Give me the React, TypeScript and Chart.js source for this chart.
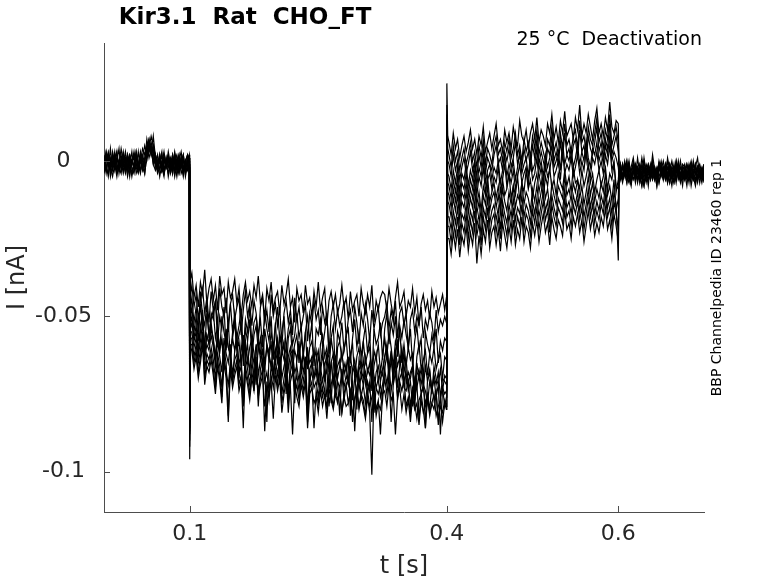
import { useEffect, useRef } from "react";
import { Chart, registerables } from "chart.js";

Chart.register(...registerables);

// sample times in ms
const timeMs = [
  0, 2.5, 5, 7.5, 10, 12.5, 15, 17.5, 20, 22.5,
  25, 27.5, 30, 32.5, 35, 37.5, 40, 42.5, 45, 47.5,
  50, 52.5, 55, 57.5, 60, 62.5, 65, 67.5, 70, 72.5,
  75, 77.5, 80, 82.5, 85, 87.5, 90, 92.5, 95, 97.5,
  99.5, 100, 101,
  102.5, 105, 107.5, 110, 112.5, 115, 117.5, 120, 122.5, 125,
  127.5, 130, 132.5, 135, 137.5, 140, 142.5, 145, 147.5, 150,
  152.5, 155, 157.5, 160, 162.5, 165, 167.5, 170, 172.5, 175,
  177.5, 180, 182.5, 185, 187.5, 190, 192.5, 195, 197.5, 200,
  202.5, 205, 207.5, 210, 212.5, 215, 217.5, 220, 222.5, 225,
  227.5, 230, 232.5, 235, 237.5, 240, 242.5, 245, 247.5, 250,
  252.5, 255, 257.5, 260, 262.5, 265, 267.5, 270, 272.5, 275,
  277.5, 280, 282.5, 285, 287.5, 290, 292.5, 295, 297.5, 300,
  302.5, 305, 307.5, 310, 312.5, 315, 317.5, 320, 322.5, 325,
  327.5, 330, 332.5, 335, 337.5, 340, 342.5, 345, 347.5, 350,
  352.5, 355, 357.5, 360, 362.5, 365, 367.5, 370, 372.5, 375,
  377.5, 380, 382.5, 385, 387.5, 390, 392.5, 395, 397.5,
  399.5, 400, 401,
  402.5, 405, 407.5, 410, 412.5, 415, 417.5, 420, 422.5, 425,
  427.5, 430, 432.5, 435, 437.5, 440, 442.5, 445, 447.5, 450,
  452.5, 455, 457.5, 460, 462.5, 465, 467.5, 470, 472.5, 475,
  477.5, 480, 482.5, 485, 487.5, 490, 492.5, 495, 497.5, 500,
  502.5, 505, 507.5, 510, 512.5, 515, 517.5, 520, 522.5, 525,
  527.5, 530, 532.5, 535, 537.5, 540, 542.5, 545, 547.5, 550,
  552.5, 555, 557.5, 560, 562.5, 565, 567.5, 570, 572.5, 575,
  577.5, 580, 582.5, 585, 587.5, 590, 592.5, 595, 597.5,
  600, 601,
  602.5, 605, 607.5, 610, 612.5, 615, 617.5, 620, 622.5, 625,
  627.5, 630, 632.5, 635, 637.5, 640, 642.5, 645, 647.5, 650,
  652.5, 655, 657.5, 660, 662.5, 665, 667.5, 670, 672.5, 675,
  677.5, 680, 682.5, 685, 687.5, 690, 692.5, 695, 697.5, 700,
];

// current traces in pA
const trace01 = [
  -1, 3, 0, -2, 2, -3, 1, -1, 4, 0,
  -4, -1, 2, 0, -2, 3, -1, -3, 1, 5,
  2, 6, 3, 1, -1, 2, -3, 0, 1, -2,
  3, -1, -4, 0, 2, -2, 1, -3, 0, 2,
  1, -96, -38,
  -36, -44, -40, -47, -39, -43, -35, -46, -41, -38,
  -45, -40, -48, -37, -43, -41, -49, -39, -44, -42,
  -38, -46, -41, -50, -43, -39, -45, -42, -47, -40,
  -44, -37, -46, -43, -51, -41, -45, -39, -48, -44,
  -42, -49, -40, -46, -43, -38, -47, -44, -52, -41,
  -45, -43, -49, -40, -46, -44, -50, -42, -47, -39,
  -48, -44, -41, -53, -45, -42, -47, -43, -49, -46,
  -40, -47, -44, -51, -42, -48, -45, -43, -50, -41,
  -46, -49, -43, -47, -40, -52, -45, -48, -44, -42,
  -43, -48, -41, -46, -50, -44, -39, -47, -45, -42,
  -50, -45, -47, -41, -49, -44, -53, -46, -43, -48,
  -45, -51, -42, -47, -44, -49, -46, -43, -48,
  -44, 25, 8,
  6, 2, 9, 4, 7, 1, 5, 8, 3, 6,
  10, 4, 7, 2, 8, 5, 11, 3, 6, 9,
  4, 8, 12, 5, 7, 3, 10, 6, 9, 4,
  11, 7, 5, 13, 8, 6, 10, 4, 9, 12,
  7, 14, 6, 10, 8, 5, 12, 9, 15, 7,
  11, 6, 13, 9, 16, 8, 10, 12, 7, 14,
  10, 18, 8, 12, 9, 15, 11, 7, 13, 17,
  9, 12, 8, 14, 10, 19, 11, 9, 13,
  12, -3,
  -1, -5, 0, -3, -6, -2, 1, -4, -2, -7,
  -3, 0, -5, -2, -4, 2, -3, -6, -1, -4,
  -2, -5, 1, -3, -6, -2, -4, 0, -5, -3,
  -6, -1, -3, -5, 0, -4, -2, -7, -3, -1,
];
const trace02 = [
  2, -2, -4, 1, -1, 3, -3, 0, -2, 2,
  0, -5, -1, 3, -3, 1, -2, 0, 4, 2,
  5, 1, 4, -1, 2, -2, 0, 3, -4, -1,
  1, -3, 2, -1, -5, 0, 3, -2, -1, 1,
  -1, -90, -43,
  -40, -47, -43, -51, -45, -41, -49, -44, -52, -42,
  -48, -45, -53, -41, -47, -50, -44, -55, -46, -43,
  -51, -47, -44, -56, -48, -42, -50, -46, -53, -45,
  -49, -58, -47, -44, -52, -48, -55, -43, -50, -46,
  -53, -47, -60, -49, -45, -52, -48, -56, -44, -51,
  -47, -54, -50, -46, -58, -49, -53, -45, -51, -48,
  -56, -47, -52, -49, -62, -50, -46, -54, -48, -53,
  -50, -45, -57, -51, -48, -55, -47, -52, -59, -49,
  -53, -46, -51, -58, -48, -54, -50, -47, -56, -52,
  -50, -46, -54, -48, -52, -45, -57, -49, -47, -53,
  -49, -61, -51, -48, -55, -50, -53, -47, -57, -51,
  -54, -49, -52, -58, -48, -55, -51, -53, -50,
  -52, 18, 4,
  2, -2, 5, 0, 3, -3, 1, 4, -1, 2,
  6, 0, 3, -2, 5, 1, 7, -1, 4, 2,
  -1, 5, 8, 2, 4, 0, 6, 3, 7, 1,
  4, 9, 2, 5, 0, 7, 3, 6, 1, 8,
  4, 10, 2, 6, 3, 0, 7, 5, 11, 3,
  6, 2, 9, 4, 12, 5, 7, 3, 8, 10,
  4, 13, 6, 8, 3, 11, 7, 5, 9, 14,
  6, 9, 4, 10, 7, 15, 5, 8, 11,
  6, -4,
  -2, -6, -1, -4, 0, -5, -3, -7, -2, -4,
  1, -3, -6, -2, -5, -1, -4, -8, -3, 0,
  -4, -2, -6, -1, -3, -5, 0, -4, -7, -2,
  -3, -5, -1, -4, -6, -2, 1, -5, -3, -6,
];
const trace03 = [
  -3, 0, 2, -2, -5, -1, 3, -4, 0, -2,
  1, -3, 0, -1, 2, -4, -2, 1, -3, 0,
  7, 3, 5, 2, 0, -2, 1, -3, 2, -1,
  -4, 0, -2, 3, -1, -3, 0, 2, -4, -1,
  -2, -88, -47,
  -44, -52, -47, -55, -42, -50, -53, -46, -57, -49,
  -51, -45, -58, -50, -54, -47, -61, -52, -46, -55,
  -49, -57, -53, -48, -62, -51, -55, -47, -59, -52,
  -50, -56, -51, -60, -48, -54, -58, -50, -64, -53,
  -47, -58, -55, -50, -61, -54, -51, -59, -56, -49,
  -57, -53, -63, -55, -50, -58, -52, -66, -54, -56,
  -51, -60, -55, -49, -62, -57, -53, -68, -55, -58,
  -52, -61, -56, -54, -65, -57, -51, -60, -55, -63,
  -58, -53, -62, -56, -70, -54, -59, -57, -52, -64,
  -54, -49, -59, -52, -56, -50, -63, -53, -57, -51,
  -56, -60, -54, -66, -58, -53, -61, -57, -72, -55,
  -59, -62, -56, -60, -54, -65, -58, -61, -57,
  -58, 15, 0,
  -1, -5, 2, -3, 0, -6, -2, 1, -4, -1,
  3, -3, 0, -5, 2, -2, 4, -4, 1, -1,
  -3, 2, 5, -1, 1, -3, 3, 0, 4, -2,
  1, 6, -1, 2, -2, 4, 0, 3, -2, 5,
  1, 7, -1, 3, 0, -3, 4, 2, 8, 0,
  3, -1, 6, 1, 9, 2, 4, 0, 5, 7,
  1, 10, 3, 5, 0, 8, 4, 2, 6, 11,
  3, 6, 1, 7, 4, 12, 2, 5, 8,
  3, -2,
  -5, -1, -4, 0, -6, -3, -2, -5, 1, -4,
  -6, -2, -3, -8, -1, -4, -2, -5, 0, -3,
  -5, -1, -4, -7, -2, -3, 0, -6, -4, -1,
  -2, -5, -3, 0, -4, -6, -2, -4, -7, -3,
];
const trace04 = [
  0, -4, 1, -2, 3, -1, -5, 0, 2, -3,
  -1, 2, -4, 0, 1, -2, 3, -3, -1, 0,
  4, 7, 2, 5, 1, -1, 1, -3, 0, -2,
  1, -4, -1, 2, -3, 0, -2, 1, -5, -1,
  1, -84, -50,
  -47, -55, -50, -58, -46, -53, -60, -49, -56, -51,
  -48, -57, -53, -62, -50, -55, -59, -52, -64, -55,
  -51, -60, -56, -53, -66, -54, -58, -51, -63, -56,
  -53, -61, -57, -68, -54, -59, -62, -55, -60, -52,
  -64, -56, -61, -58, -70, -57, -54, -63, -59, -56,
  -65, -57, -62, -55, -67, -60, -58, -64, -61, -72,
  -59, -56, -63, -60, -68, -57, -62, -75, -60, -58,
  -64, -61, -57, -66, -62, -59, -70, -63, -60, -67,
  -58, -65, -62, -60, -71, -61, -64, -59, -68, -63,
  -57, -63, -55, -60, -66, -58, -61, -54, -65, -59,
  -66, -60, -64, -62, -74, -63, -59, -67, -64, -61,
  -69, -62, -65, -60, -67, -64, -62, -70, -63,
  -64, 12, -4,
  -5, -9, -3, -7, -2, -10, -4, -6, -1, -8,
  -3, -6, 0, -8, -2, -5, 1, -7, -3, -1,
  -6, -2, -4, 0, -7, -3, 2, -5, -1, -4,
  0, -6, -2, 3, -4, -1, 1, -5, 2, -3,
  -1, 4, -3, 0, -5, 2, -2, 1, 5, -2,
  0, 3, -3, 6, -1, 2, 0, 4, -2, 1,
  5, -1, 3, 0, 7, 1, -2, 4, 2, 6,
  0, 3, -1, 5, 2, 8, 0, 3, 1,
  -2, -5,
  -2, -6, -3, 0, -5, -8, -2, -4, -6, -1,
  -3, -7, -4, -2, -5, 0, -6, -3, -1, -4,
  -5, -2, -7, -3, 0, -4, -6, -1, -5, -3,
  -1, -4, -6, -2, -5, -8, -3, -1, -4, -2,
];
const trace05 = [
  -2, 3, -1, -3, 0, 2, -4, -2, 1, -1,
  3, -2, 0, -4, -1, 2, -3, 1, -2, 0,
  3, 5, 2, 4, 0, -4, -2, 2, -3, 1,
  -5, -1, 2, -3, 0, -2, 1, -4, 0, -2,
  -3, -80, -52,
  -50, -57, -53, -61, -55, -48, -62, -56, -59, -52,
  -58, -64, -55, -61, -57, -67, -54, -60, -63, -57,
  -52, -61, -58, -66, -56, -63, -59, -69, -57, -62,
  -72, -59, -62, -56, -65, -60, -64, -58, -70, -61,
  -57, -66, -62, -59, -75, -63, -60, -67, -61, -64,
  -58, -68, -62, -66, -60, -73, -64, -61, -69, -63,
  -66, -60, -71, -64, -62, -78, -65, -63, -70, -66,
  -61, -69, -65, -72, -63, -68, -66, -80, -64, -67,
  -70, -63, -68, -65, -74, -66, -62, -71, -67, -69,
  -63, -59, -67, -61, -72, -62, -58, -65, -60, -68,
  -64, -72, -68, -66, -77, -65, -70, -67, -73, -66,
  -71, -68, -75, -66, -70, -72, -67, -74, -69,
  -70, 10, -7,
  -8, -12, -6, -10, -5, -13, -7, -9, -4, -11,
  -6, -9, -3, -11, -5, -8, -2, -10, -6, -4,
  -9, -5, -7, -2, -10, -6, -1, -8, -4, -7,
  -3, -9, -5, -1, -7, -4, -2, -8, 0, -6,
  -4, 1, -6, -2, -8, -1, -5, -3, 2, -5,
  -3, 0, -6, 3, -4, -1, -3, 1, -5, -2,
  2, -4, 0, -3, 4, -2, -5, 1, -1, 3,
  -3, 0, -4, 2, -1, 5, -3, 0, -10,
  -6, -3,
  -5, -1, -4, -7, -2, -5, 0, -3, -6, -4,
  -8, -2, -5, -1, -3, -6, -4, -2, -5, -3,
  0, -4, -7, -2, -5, -1, -6, -3, -4, -8,
  -2, -5, -3, -6, -1, -4, -7, -2, -5, -3,
];
const trace06 = [
  1, -1, -5, 0, -2, 2, -1, -3, 0, 1,
  -3, 0, 2, -2, -4, 1, -1, 3, -2, -4,
  2, 4, 6, 3, -2, 0, -5, -1, 3, -2,
  0, -3, 1, -5, -1, 2, -2, 0, -3, 1,
  0, -86, -54,
  -52, -58, -55, -61, -53, -49, -62, -56, -59, -54,
  -57, -63, -55, -60, -58, -66, -56, -60, -62, -57,
  -61, -55, -70, -59, -63, -58, -65, -60, -57, -74,
  -60, -58, -64, -61, -68, -59, -62, -66, -60, -63,
  -58, -72, -61, -64, -60, -67, -62, -61, -78, -63,
  -60, -66, -62, -69, -61, -65, -63, -70, -64, -61,
  -68, -63, -66, -62, -73, -65, -62, -69, -66, -64,
  -71, -65, -68, -63, -82, -67, -64, -70, -66, -69,
  -64, -72, -67, -69, -65, -75, -68, -66, -71, -67,
  -63, -60, -67, -62, -71, -61, -66, -63, -69, -61,
  -72, -68, -70, -66, -79, -69, -67, -72, -68, -86,
  -70, -67, -74, -69, -72, -68, -76, -70, -71,
  -72, 8, -10,
  -11, -15, -9, -13, -8, -16, -10, -12, -7, -14,
  -9, -12, -6, -14, -10, -16, -8, -11, -5, -13,
  -10, -7, -12, -8, -14, -6, -11, -9, -4, -12,
  -8, -11, -5, -13, -7, -10, -3, -9, -6, -12,
  -7, -4, -10, -6, -12, -5, -8, -2, -9, -6,
  -11, -4, -7, -9, -3, -8, -5, -10, -2, -7,
  -6, -9, -3, -8, -5, -1, -7, -4, -10, -6,
  -3, -8, -5, -2, -9, -4, -6, -1, -8,
  -9, -4,
  -1, -6, -3, -5, -2, -7, -4, -1, -6, -3,
  -5, -8, -2, -4, -6, -1, -5, -3, -7, -2,
  -4, -1, -6, -3, -5, -7, -2, -4, 0, -5,
  -3, -6, -2, -8, -4, -1, -5, -3, -6, -2,
];
const trace07 = [
  -1, 2, -2, 4, -3, 0, 1, -2, -4, 2,
  0, -3, 1, -1, 3, -2, -4, 0, 2, -1,
  0, 6, 3, 8, 1, -2, 0, -3, 1, -1,
  -2, 0, -4, 2, -3, 1, -1, -5, 0, 2,
  -2, -82, -55,
  -55, -60, -57, -63, -58, -52, -64, -59, -61, -56,
  -60, -66, -58, -63, -68, -57, -62, -65, -59, -71,
  -61, -58, -65, -63, -78, -60, -64, -67, -62, -65,
  -59, -69, -64, -61, -67, -84, -63, -66, -68, -61,
  -65, -60, -70, -66, -63, -75, -65, -62, -68, -66,
  -71, -64, -68, -63, -80, -67, -65, -70, -68, -72,
  -66, -71, -67, -76, -69, -65, -72, -68, -71, -82,
  -67, -73, -69, -72, -66, -77, -70, -67, -74, -69,
  -72, -68, -75, -71, -84, -69, -73, -70, -76, -72,
  -67, -62, -70, -64, -68, -61, -73, -66, -63, -71,
  -68, -74, -71, -79, -70, -73, -69, -75, -72, -74,
  -78, -71, -74, -70, -76, -72, -88, -73, -75,
  -74, 14, -13,
  -14, -18, -12, -16, -11, -19, -13, -15, -10, -17,
  -12, -15, -9, -17, -13, -19, -11, -14, -8, -16,
  -12, -10, -15, -11, -17, -9, -13, -16, -10, -14,
  -8, -15, -11, -13, -7, -14, -10, -12, -16, -9,
  -13, -8, -14, -10, -6, -12, -9, -15, -7, -11,
  -14, -8, -10, -12, -5, -11, -9, -13, -7, -10,
  -6, -12, -8, -14, -10, -5, -11, -7, -13, -9,
  -12, -7, -10, -4, -11, -8, -13, -6, -16,
  -12, -2,
  -4, -7, -3, -5, -1, -6, -4, -2, -7, -3,
  -5, 1, -4, -6, -2, -5, -3, -8, -2, -4,
  -6, -3, 0, -5, -2, -7, -4, -1, -6, -3,
  -4, -8, -2, -5, -3, -1, -6, -4, -2, -5,
];
const trace08 = [
  -4, 0, 3, -1, -2, 1, -3, 0, -1, 3,
  -2, 1, -5, 0, 2, -1, -3, 2, 0, -4,
  2, 4, 8, 5, 2, 0, 1, -2, -4, 0,
  2, -2, 0, -3, 1, -4, -1, 2, -2, 0,
  2, -78, -57,
  -57, -63, -59, -65, -61, -55, -67, -62, -64, -60,
  -64, -70, -62, -66, -73, -61, -65, -82, -63, -68,
  -64, -62, -69, -66, -75, -63, -67, -72, -65, -69,
  -63, -79, -67, -64, -71, -68, -74, -66, -70, -64,
  -69, -63, -75, -70, -66, -78, -68, -65, -72, -69,
  -74, -67, -71, -66, -84, -70, -68, -73, -71, -76,
  -69, -74, -70, -67, -79, -72, -69, -75, -71, -73,
  -68, -77, -72, -70, -75, -71, -87, -73, -69, -76,
  -72, -78, -71, -74, -70, -81, -73, -75, -72, -77,
  -67, -72, -66, -74, -69, -65, -77, -70, -68, -73,
  -74, -71, -79, -73, -76, -72, -83, -75, -73, -78,
  -75, -80, -72, -77, -74, -85, -76, -73, -79,
  -76, 11, -18,
  -18, -22, -16, -20, -15, -23, -17, -19, -14, -21,
  -16, -19, -13, -21, -17, -24, -15, -18, -12, -20,
  -16, -14, -19, -15, -22, -13, -17, -20, -14, -18,
  -12, -19, -15, -17, -11, -18, -14, -16, -20, -13,
  -17, -12, -18, -14, -10, -16, -13, -19, -11, -15,
  -18, -12, -14, -16, -9, -15, -13, -17, -11, -14,
  -10, -16, -12, -18, -14, -9, -15, -11, -17, -13,
  -16, -11, -14, -8, -15, -12, -17, -10, -14,
  -32, -5,
  -3, -6, -2, -5, -7, -3, -1, -6, -4, -2,
  -5, -8, -3, -1, -4, -6, -2, -5, -3, -1,
  -6, -2, -4, -7, -3, -5, -1, -4, -6, -2,
  -5, -3, -7, -1, -4, -2, -6, -3, -5, -1,
];
const trace09 = [
  0, -3, 2, -5, -1, 1, 3, -2, 0, -4,
  -1, 2, -3, 0, -2, 3, -1, -4, 1, -2,
  1, 3, 4, -1, -3, -1, 2, -2, -5, 1,
  -2, 1, -3, 0, -1, 2, -4, -2, 0, -3,
  -1, -92, -59,
  -59, -65, -61, -68, -63, -57, -70, -64, -66, -62,
  -67, -73, -64, -69, -76, -63, -68, -72, -65, -71,
  -67, -64, -72, -69, -86, -66, -70, -75, -68, -72,
  -65, -74, -70, -67, -87, -71, -77, -69, -73, -67,
  -72, -66, -78, -73, -69, -81, -71, -68, -75, -72,
  -77, -70, -74, -69, -82, -73, -71, -86, -74, -78,
  -72, -76, -73, -80, -71, -75, -79, -73, -77, -74,
  -81, -75, -72, -78, -74, -84, -76, -73, -79, -75,
  -77, -82, -74, -79, -76, -73, -80, -77, -88, -75,
  -70, -75, -69, -84, -72, -68, -76, -71, -74, -70,
  -79, -76, -81, -74, -78, -83, -77, -75, -80, -86,
  -76, -81, -78, -75, -82, -79, -77, -84, -78,
  -80, 9, -21,
  -21, -26, -19, -24, -18, -27, -20, -23, -17, -25,
  -19, -23, -16, -24, -20, -27, -18, -22, -15, -24,
  -19, -17, -23, -18, -25, -16, -20, -24, -17, -22,
  -15, -23, -18, -21, -14, -22, -17, -19, -24, -16,
  -20, -15, -22, -17, -13, -19, -16, -23, -14, -18,
  -21, -15, -17, -20, -12, -18, -16, -21, -14, -17,
  -13, -19, -15, -22, -17, -12, -18, -14, -20, -16,
  -19, -14, -17, -11, -18, -15, -21, -13, -17,
  -22, -3,
  -6, -2, -5, -1, -4, -7, -2, -5, -3, -6,
  -1, -4, -7, -3, -5, -2, -6, -4, -1, -5,
  -3, -6, -2, -4, -8, -3, -1, -5, -2, -4,
  -6, -3, -5, -1, -4, -7, -2, -5, -3, -6,
];
const trace10 = [
  -2, 1, -1, -3, 2, -2, 0, 4, -3, -1,
  1, -2, 0, -5, -1, 2, -3, 0, -2, 1,
  4, 7, 3, 1, -1, -3, 2, -3, 0, -1,
  1, -3, -1, 0, -2, -4, 1, -3, -2, 0,
  -3, -87, -60,
  -61, -67, -63, -70, -65, -59, -72, -66, -68, -64,
  -69, -75, -66, -71, -78, -65, -70, -84, -67, -73,
  -69, -66, -74, -71, -79, -68, -72, -77, -70, -74,
  -67, -76, -72, -69, -79, -73, -75, -71, -83, -69,
  -74, -70, -81, -75, -71, -77, -73, -88, -72, -76,
  -79, -72, -76, -71, -86, -75, -73, -78, -76, -81,
  -74, -79, -75, -83, -73, -77, -80, -75, -78, -74,
  -81, -76, -79, -78, -75, -82, -77, -74, -80, -76,
  -79, -83, -76, -81, -101, -74, -82, -78, -80, -75,
  -74, -79, -72, -77, -75, -88, -76, -73, -80, -75,
  -81, -77, -84, -76, -80, -78, -85, -77, -81, -79,
  -76, -82, -78, -80, -75, -83, -79, -81, -77,
  -79, 7, -25,
  -25, -30, -23, -28, -22, -31, -24, -27, -21, -29,
  -23, -27, -20, -33, -24, -30, -22, -26, -19, -28,
  -23, -21, -27, -22, -29, -20, -24, -28, -21, -26,
  -19, -27, -22, -25, -18, -26, -21, -23, -28, -20,
  -24, -19, -26, -21, -17, -23, -20, -27, -18, -22,
  -25, -19, -21, -24, -16, -22, -20, -25, -18, -21,
  -17, -23, -19, -26, -21, -16, -22, -18, -24, -20,
  -23, -18, -21, -15, -22, -19, -25, -17, -21,
  -26, -6,
  -2, -5, -3, -7, -1, -4, -6, -3, -2, -5,
  -8, -4, -1, -3, -6, -2, -5, -3, -7, -4,
  -2, -6, -4, -1, -5, -3, -7, -2, -4, -6,
  -3, -1, -5, -2, -6, -4, -2, -5, -3, -7,
];

const traces = [trace01, trace02, trace03, trace04, trace05, trace06, trace07, trace08, trace09, trace10];

const xTickValues = [100, 400, 600];
const yTickValues = [-100, -50, 0];
const xRange = [0, 700];
const yRange = [-113, 38];

const titleText = "Kir3.1  Rat  CHO_FT";
const conditionText = "25 \u00B0C  Deactivation";
const sourceText = "BBP Channelpedia ID 23460 rep 1";
const xTitle = "t [s]";
const yTitle = "I [nA]";

const FONT = "'DejaVu Sans', 'Liberation Sans', sans-serif";
const AXIS_COLOR = "#4d4d4d";
const TEXT_COLOR = "#262626";

const decorPlugin = {
  id: "decor",
  afterDraw(chart: any) {
    const { ctx, chartArea, scales } = chart;
    ctx.save();
    ctx.strokeStyle = AXIS_COLOR;
    ctx.lineWidth = 1;
    xTickValues.forEach((v) => {
      const px = Math.round(scales.x.getPixelForValue(v)) + 0.5;
      ctx.beginPath();
      ctx.moveTo(px, chartArea.bottom);
      ctx.lineTo(px, chartArea.bottom - 6);
      ctx.stroke();
    });
    yTickValues.forEach((v) => {
      const py = Math.round(scales.y.getPixelForValue(v)) + 0.5;
      ctx.beginPath();
      ctx.moveTo(chartArea.left, py);
      ctx.lineTo(chartArea.left + 6, py);
      ctx.stroke();
    });
    ctx.fillStyle = "#000";
    ctx.font = `bold 23px ${FONT}`;
    ctx.textAlign = "center";
    ctx.textBaseline = "middle";
    ctx.fillText(titleText, 245, 18);
    ctx.font = `19px ${FONT}`;
    ctx.textAlign = "right";
    ctx.fillText(conditionText, chartArea.right - 2, 40);
    ctx.font = `14px ${FONT}`;
    ctx.translate(chartArea.right + 13, (chartArea.top + chartArea.bottom) / 2);
    ctx.rotate(-Math.PI / 2);
    ctx.textAlign = "center";
    ctx.textBaseline = "middle";
    ctx.fillText(sourceText, 0, 0);
    ctx.restore();
  },
};

export default function App() {
  const ref = useRef<HTMLCanvasElement>(null);
  useEffect(() => {
    const chart = new Chart(ref.current as HTMLCanvasElement, {
      type: "line",
      data: {
        datasets: traces.map((tr, k) => ({
          label: `trace ${k + 1}`,
          data: tr.map((v, i) => ({ x: timeMs[i], y: v })),
          borderColor: "#000",
          borderWidth: 1.2,
          pointRadius: 0,
          tension: 0,
          fill: false,
        })),
      },
      options: {
        animation: false,
        responsive: false,
        layout: { padding: { left: 0, right: 74, top: 43, bottom: 0 } },
        plugins: {
          legend: { display: false },
          tooltip: { enabled: false },
          title: { display: false },
        },
        scales: {
          x: {
            type: "linear",
            min: xRange[0],
            max: xRange[1],
            grid: { display: false, drawTicks: false },
            border: { display: true, color: AXIS_COLOR, width: 1 },
            afterBuildTicks: (s: any) => {
              s.ticks = xTickValues.map((v) => ({ value: v }));
            },
            afterFit: (s: any) => {
              s.height = 71;
            },
            ticks: {
              callback: (v: any) => String(Number(v) / 1000),
              font: { family: FONT, size: 22 },
              color: TEXT_COLOR,
              padding: 9,
              maxRotation: 0,
              autoSkip: false,
            },
            title: {
              display: true,
              text: xTitle,
              font: { family: FONT, size: 24 },
              color: TEXT_COLOR,
              padding: { top: 0, bottom: 2 },
            },
          },
          y: {
            type: "linear",
            min: yRange[0],
            max: yRange[1],
            grid: { display: false, drawTicks: false },
            border: { display: true, color: AXIS_COLOR, width: 1 },
            afterBuildTicks: (s: any) => {
              s.ticks = yTickValues.map((v) => ({ value: v }));
            },
            afterFit: (s: any) => {
              s.width = 104;
            },
            ticks: {
              callback: (v: any) => String(Number(v) / 1000),
              font: { family: FONT, size: 22 },
              color: TEXT_COLOR,
              padding: 12,
              crossAlign: "center",
              autoSkip: false,
            },
            title: {
              display: true,
              text: yTitle,
              font: { family: FONT, size: 24 },
              color: TEXT_COLOR,
              padding: { top: 3, bottom: 0 },
            },
          },
        },
      },
      plugins: [decorPlugin],
    } as any);
    return () => chart.destroy();
  }, []);
  return (
    <div style={{ position: "absolute", left: 0, top: 0, width: 778, height: 583, background: "#fff" }}>
      <canvas ref={ref} width={778} height={583} style={{ width: 778, height: 583, display: "block" }} />
    </div>
  );
}
